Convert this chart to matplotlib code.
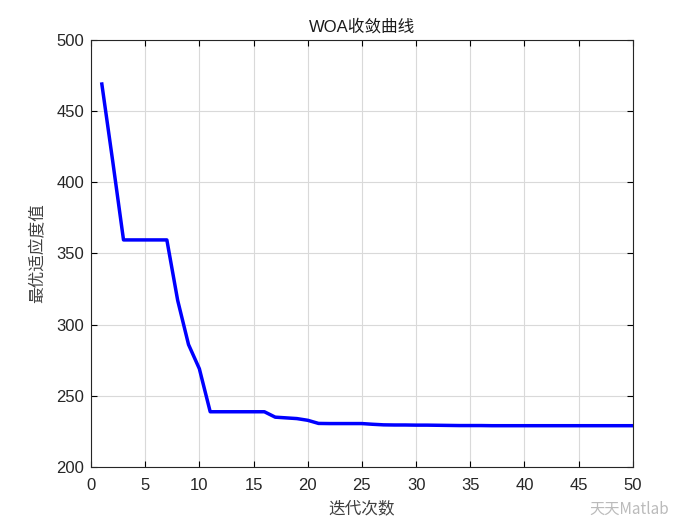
import numpy as np
import matplotlib.pyplot as plt

plt.rcParams['font.family'] = ['Liberation Sans', 'Noto Sans CJK SC', 'DejaVu Sans']

# convergence curve
iters = np.arange(1, 51)
fitness = [469, 415, 359.5, 359.5, 359.5, 359.5, 359.5, 317, 286, 269,
           238.8, 238.8, 238.8, 238.8, 238.8, 238.8, 235, 234.5, 234, 232.8,
           230.6, 230.5, 230.5, 230.5, 230.5, 230, 229.6, 229.5, 229.5, 229.4,
           229.4, 229.3, 229.2, 229.1, 229.1, 229.1, 229, 229, 229, 229,
           229, 229, 229, 229, 229, 229, 229, 229, 229, 229]

fig = plt.figure(figsize=(7, 5.25), dpi=100)
ax = fig.add_axes([0.13, 0.1105, 0.774, 0.8135])
ax.plot(iters, fitness, color='#0000ff', lw=2.5)
ax.set_xlim(0, 50)
ax.set_ylim(200, 500)
ax.set_xticks(np.arange(0, 51, 5))
ax.set_yticks(np.arange(200, 501, 50))
ax.grid(True, color='#d9d9d9', lw=0.8)
ax.tick_params(direction='in', labelsize=12, length=4, top=True, right=True,
               labeltop=False, labelright=False, labelcolor='#262626')
ax.tick_params(axis='x', pad=8)
ax.tick_params(axis='y', pad=5)
for s in ax.spines.values():
    s.set_linewidth(0.8)
    s.set_color('#262626')
ax.set_title('WOA收敛曲线', fontsize=12, color='#1a1a1a')
ax.set_xlabel('迭代次数', fontsize=12, color='#404040', family=['Noto Sans CJK SC'], labelpad=5)
ax.set_ylabel('最优适应度值', fontsize=12, color='#404040', family=['Noto Sans CJK SC'], labelpad=7)

# watermark, kept just under the tick labels
fig.text(0.842, 0.022, '天天Matlab', fontsize=11, color='#bbbbbb', family=['Noto Sans CJK SC', 'DejaVu Sans'])

fig.savefig('out.png', dpi=100)
